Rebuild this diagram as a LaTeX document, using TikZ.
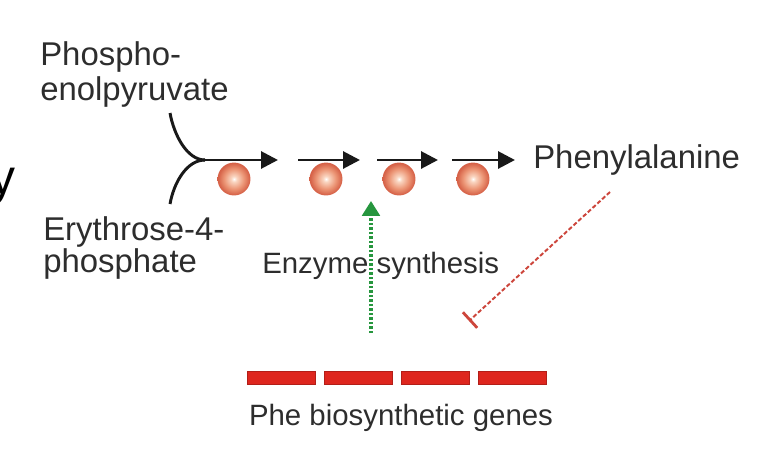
\documentclass[tikz,border=0pt]{standalone}
\usepackage{fontspec}
\setmainfont{Liberation Sans}
\usepackage{xcolor}
\usepackage{tikz}
\usetikzlibrary{
  arrows.meta,
  positioning,
  shadings
}
\definecolor{TextGray}{RGB}{45, 45, 45}
\definecolor{BallDark}{RGB}{214, 98, 72}
\definecolor{BallMid}{RGB}{236, 150, 118}
\definecolor{BallLight}{RGB}{250, 215, 195}
\definecolor{GeneRed}{RGB}{222, 38, 30}
\definecolor{InduceGreen}{RGB}{38, 150, 62}
\definecolor{InhibitRed}{RGB}{205, 70, 60}
\pgfdeclareradialshading{enzymeball}{\pgfpoint{0bp}{0bp}}{
  color(0bp)=(white); color(4bp)=(BallLight); color(15bp)=(BallMid);
  color(24bp)=(BallDark); color(50bp)=(BallDark)}
\tikzset{
  metabolite/.style={text=TextGray, inner sep=0pt, align=left,
    font={\fontsize{23.4}{25.5}\selectfont}},
  caption/.style={text=TextGray, inner sep=0pt,
    font={\fontsize{20.9}{24}\selectfont}},
  enzyme/.style={circle, inner sep=0pt, minimum size=23.4pt, shading=enzymeball},
  reaction/.style={line width=2.1pt, black!90, -{Triangle[length=12pt, width=12pt]}},
  substrate/.style={line width=2.1pt, black!90},
  gene/.style={rectangle, inner sep=0pt, minimum width=48.6pt, minimum height=9.2pt,
    fill=GeneRed, draw=GeneRed!80!black, line width=0.4pt},
  induction/.style={line width=2.2pt, InduceGreen, dash pattern=on 1.6pt off 1.6pt,
    -{Triangle[length=10.5pt, width=12.5pt]}},
  inhibition/.style={line width=1.4pt, InhibitRed, dash pattern=on 3pt off 1.6pt,
    -{Bar[width=15pt, line width=2pt]}}
}

\begin{document}
\begin{tikzpicture}[x=0.025cm, y=-0.025cm]
  \useasboundingbox (0,0) rectangle (784,460);

  % cut-off letter at the left edge
  \node[anchor=base east, inner sep=0pt, font={\fontsize{35.5}{40}\selectfont}] (cut) at (16,194) {y};

  % substrates
  \node[metabolite, anchor=north west] (pep) at (40,41) {Phospho-\\enolpyruvate};
  \node[metabolite, anchor=north west, font={\fontsize{23.4}{21.5}\selectfont}] (e4p) at (43,216) {Erythrose-4-\\phosphate};
  \coordinate (pepend) at (170,113);
  \coordinate (e4pend) at (170,204);

  % pathway steps
  \foreach \i/\xa/\xb/\xe in {1/205/278/234, 2/298/360/326, 3/377/438/399, 4/452/515/473} {
    \coordinate (a\i) at (\xa,160);
    \coordinate (b\i) at (\xb,160);
    \node[enzyme] (e\i) at (\xe,179) {};
    \draw[reaction] (a\i) -- (b\i);
  }
  \draw[substrate] (pepend) .. controls (174,135) and (187,160) .. (a1);
  \draw[substrate] (e4pend) .. controls (174,182) and (187,160) .. (a1);

  \node[metabolite, anchor=base west] (phe) at (533,168) {Phenylalanine};

  % genes
  \foreach \i/\x in {1/281, 2/358.5, 3/435, 4/512.5}
    \node[gene] (g\i) at (\x,377.5) {};
  \node[caption, anchor=base] (genes) at (401,425) {Phe biosynthetic genes};

  % regulation
  \node[caption, anchor=base west] (synth) at (262,273) {Enzyme synthesis};
  \coordinate (indfrom) at (371,333);
  \coordinate (indto) at (371,201);
  \draw[induction] (indfrom) -- (indto);
  \coordinate (inhfrom) at (610,192);
  \coordinate (inhto) at (469,321);
  \draw[inhibition] (inhfrom) -- (inhto);
\end{tikzpicture}
\end{document}
